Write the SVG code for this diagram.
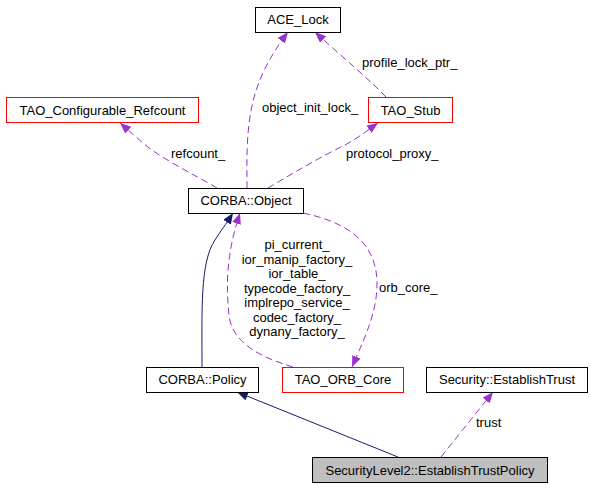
<svg xmlns="http://www.w3.org/2000/svg" width="591" height="488" viewBox="0 0 591 488">
<style>
.n rect{fill:#fff;stroke:#000;stroke-width:1}
.n.r rect{stroke:#ff0000}
.n.g rect{fill:#bfbfbf}
text{font-family:"Liberation Sans",Arial,sans-serif;font-size:13px;fill:#000}
.n text{text-anchor:middle}
.u{fill:none;stroke:#9a32cd;stroke-width:1;stroke-dasharray:7,4}
.i{fill:none;stroke:#191970;stroke-width:1}
.lc{text-anchor:middle}
</style>
<defs>
<marker id="ap" markerUnits="userSpaceOnUse" markerWidth="12" markerHeight="10" refX="11" refY="4.5" orient="auto">
<path d="M0,0 L11,4.5 L0,9 z" fill="#9a32cd"/>
</marker>
<marker id="an" markerUnits="userSpaceOnUse" markerWidth="12" markerHeight="10" refX="11" refY="4.5" orient="auto">
<path d="M0,0 L11,4.5 L0,9 z" fill="#191970"/>
</marker>
</defs>
<rect width="591" height="488" fill="#fff"/>
<g id="edges">
<path class="u" d="M217,188 C195,175 160,158 143,143 L120,123" marker-end="url(#ap)"/>
<text x="171" y="158">refcount_</text>
<path class="u" d="M247,188 C247,160 245,120 258,85 C265,65 278,45 288,32" marker-end="url(#ap)"/>
<text x="262" y="112">object_init_lock_</text>
<path class="u" d="M386,97 C370,80 340,55 315,32" marker-end="url(#ap)"/>
<text x="362" y="67">profile_lock_ptr_</text>
<path class="u" d="M268,188 C290,175 320,157 345,145 C358,138 368,130 378,123" marker-end="url(#ap)"/>
<text x="346" y="158">protocol_proxy_</text>
<path class="i" d="M202,367 C202,310 200,262 215,240 C220,232 226,224 233,213" marker-end="url(#an)"/>
<path class="u" d="M293,367 C260,357 232,343 229,315 C226,285 226,255 240,213" marker-end="url(#ap)"/>
<text class="lc" x="297" y="249">pi_current_</text>
<text class="lc" x="297" y="263.5">ior_manip_factory_</text>
<text class="lc" x="297" y="278">ior_table_</text>
<text class="lc" x="297" y="292.5">typecode_factory_</text>
<text class="lc" x="297" y="307">implrepo_service_</text>
<text class="lc" x="297" y="321.5">codec_factory_</text>
<text class="lc" x="297" y="336">dynany_factory_</text>
<path class="u" d="M303,213 C345,222 375,240 377,280 C378,310 366,335 352,367" marker-end="url(#ap)"/>
<text x="379" y="292">orb_core_</text>
<path class="i" d="M398,457 L237,392" marker-end="url(#an)"/>
<path class="u" d="M441,457 L493,392" marker-end="url(#ap)"/>
<text x="476" y="427">trust</text>
</g>
<g id="ACE_Lock" class="n"><rect x="255.5" y="7.5" width="85" height="25"/><text x="298" y="24">ACE_Lock</text></g>
<g id="TAO_Configurable_Refcount" class="n r"><rect x="6.5" y="97.5" width="192" height="25"/><text x="102.5" y="115">TAO_Configurable_Refcount</text></g>
<g id="TAO_Stub" class="n r"><rect x="368.5" y="97.5" width="84" height="25"/><text x="410.5" y="115">TAO_Stub</text></g>
<g id="CORBA_Object" class="n"><rect x="188.5" y="188.5" width="115" height="25"/><text x="246" y="205">CORBA::Object</text></g>
<g id="CORBA_Policy" class="n"><rect x="146.5" y="367.5" width="112" height="25"/><text x="202.5" y="384">CORBA::Policy</text></g>
<g id="TAO_ORB_Core" class="n r"><rect x="282.5" y="367.5" width="121" height="25"/><text x="343" y="384">TAO_ORB_Core</text></g>
<g id="Security_EstablishTrust" class="n"><rect x="426.5" y="367.5" width="161" height="25"/><text x="507" y="384">Security::EstablishTrust</text></g>
<g id="SecurityLevel2_EstablishTrustPolicy" class="n g"><rect x="312.5" y="457.5" width="235" height="25"/><text x="430" y="475">SecurityLevel2::EstablishTrustPolicy</text></g>
</svg>
